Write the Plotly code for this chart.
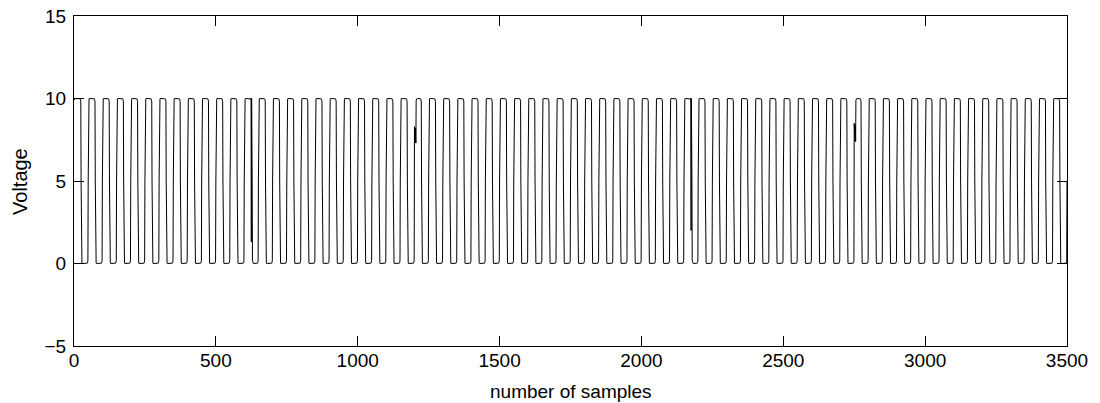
import numpy as np
import plotly.graph_objects as go

# One period of the clock signal (50 samples): high plateau, falling edge,
# low plateau, rising edge, with slightly rounded corners.
rise_top = [9.8, 9.93, 9.98]
high_plateau = [10.0] * 18
fall_top = [9.98, 9.93, 9.8]
fall_mid = [5.0]
fall_bottom = [0.2, 0.07, 0.02]
low_plateau = [0.0] * 18
rise_bottom = [0.02, 0.07, 0.2]
rise_mid = [5.0]
cycle = (rise_top + high_plateau + fall_top + fall_mid
         + fall_bottom + low_plateau + rise_bottom + rise_mid)

n_samples = 3500

# Glitches: start sample and the values that replace the clean waveform there
glitch_starts = [623, 1199, 2173, 2749]
glitch_values = [
    [10.0, 1.3, 10.0, 9.8, 5.0, 0.2],
    [8.3, 7.3, 8.3, 7.3, 8.2, 7.3, 9.9],
    [10.0, 2.0, 10.0, 9.8, 5.0, 0.2],
    [8.5, 7.4, 8.5, 7.4, 8.4, 7.4, 9.9],
]

x_ticks = [0, 500, 1000, 1500, 2000, 2500, 3000, 3500]
y_ticks = [-5, 0, 5, 10, 15]

n_cycles = n_samples // len(cycle)
voltage = np.array(cycle * n_cycles, dtype=float)
voltage[0] = 10.0
for start, vals in zip(glitch_starts, glitch_values):
    voltage[start:start + len(vals)] = vals
samples = np.arange(1, len(voltage) + 1)

fig = go.Figure()
fig.add_trace(go.Scatter(
    x=samples, y=voltage, mode="lines",
    line=dict(color="black", width=1),
    showlegend=False, hoverinfo="skip",
))

font_family = "Liberation Sans, Arial, Helvetica, sans-serif"
axis_common = dict(
    showline=True, linecolor="black", linewidth=1, mirror="allticks",
    ticks="inside", ticklen=10, tickwidth=1, tickcolor="black",
    showgrid=False, zeroline=False, automargin=False,
    tickfont=dict(family=font_family, size=19, color="black"),
)

fig.update_layout(
    width=1100, height=403,
    margin=dict(l=74, r=33, t=16, b=57),
    paper_bgcolor="white", plot_bgcolor="white",
    font=dict(family=font_family, size=18, color="black"),
    xaxis=dict(range=[0, 3500], tickvals=x_ticks, ticklabelstandoff=-3,
               **axis_common),
    yaxis=dict(range=[-5, 15], tickvals=y_ticks, ticklabelstandoff=3,
               **axis_common),
    annotations=[
        dict(text="number of samples", xref="paper", yref="paper",
             x=0.5, y=-0.139, xanchor="center", yanchor="middle",
             showarrow=False, font=dict(family=font_family, size=19)),
        dict(text="Voltage", xref="paper", yref="paper",
             x=-0.0544, y=0.5, xanchor="center", yanchor="middle",
             textangle=-90, showarrow=False,
             font=dict(family=font_family, size=20)),
    ],
)

fig.write_html("out.html")
